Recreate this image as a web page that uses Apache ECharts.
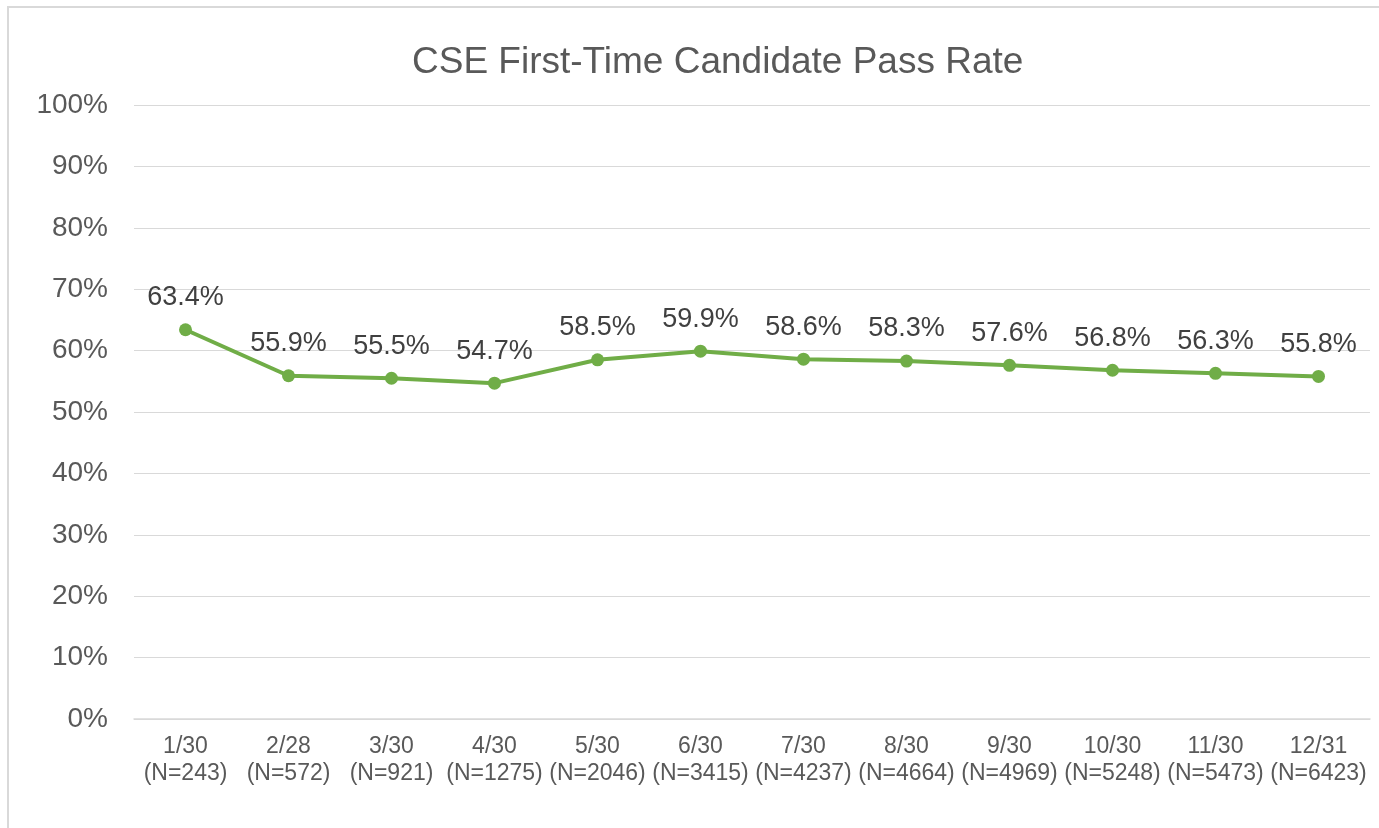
<!DOCTYPE html>
<html lang="en">
<head>
    <meta charset="UTF-8">
    <title>CSE First-Time Candidate Pass Rate</title>
    <style>
        html, body { margin: 0; padding: 0; background: #fff; }
        #frame { position: absolute; left: 7px; top: 6px; width: 1380px; height: 830px;
                 border-left: 2px solid #d9d9d9; border-top: 2px solid #d9d9d9; }
        #chart { position: absolute; left: 0; top: 0; width: 1379px; height: 828px; }
    </style>
</head>
<body>
    <div id="frame"></div>
    <div id="chart"></div>
</body>
<script src="https://cdn.jsdelivr.net/npm/echarts@6/dist/echarts.min.js"></script>
<script type="text/javascript">
    // 数据
    var dates = ['1/30', '2/28', '3/30', '4/30', '5/30', '6/30', '7/30', '8/30', '9/30', '10/30', '11/30', '12/31'];
    var counts = [243, 572, 921, 1275, 2046, 3415, 4237, 4664, 4969, 5248, 5473, 6423];
    var passRate = [63.4, 55.9, 55.5, 54.7, 58.5, 59.9, 58.6, 58.3, 57.6, 56.8, 56.3, 55.8];
    var yTicks = [0, 10, 20, 30, 40, 50, 60, 70, 80, 90, 100];

    var categories = dates.map(function (d, i) {
        return d + '\n(N=' + counts[i] + ')';
    });

    var font = 'Arial, "Liberation Sans", sans-serif';

    var option = {
        animation: false,
        title: {
            text: 'CSE First-Time Candidate Pass Rate',
            left: 407,
            top: 39,
            textStyle: { fontFamily: font, fontSize: 37, fontWeight: 'normal', color: '#595959' }
        },
        grid: { left: 134, right: 9, top: 105, bottom: 109, containLabel: false },
        xAxis: {
            type: 'category',
            data: categories,
            boundaryGap: true,
            axisLine: { lineStyle: { color: '#d9d9d9', width: 1.5 } },
            axisTick: { show: false },
            axisLabel: {
                interval: 0,
                margin: 14,
                fontFamily: font,
                fontSize: 23,
                lineHeight: 27,
                color: '#595959'
            }
        },
        yAxis: {
            type: 'value',
            min: yTicks[0],
            max: yTicks[yTicks.length - 1],
            interval: 10,
            axisLine: { show: false },
            axisTick: { show: false },
            splitLine: { lineStyle: { color: '#d9d9d9', width: 1 } },
            axisLabel: {
                margin: 26,
                fontFamily: font,
                fontSize: 28,
                color: '#595959',
                formatter: '{value}%'
            }
        },
        series: [{
            type: 'line',
            data: passRate,
            symbol: 'circle',
            symbolSize: 13,
            lineStyle: { color: '#70ad47', width: 4 },
            itemStyle: { color: '#70ad47' },
            label: {
                show: true,
                position: 'top',
                distance: 12,
                fontFamily: font,
                fontSize: 27,
                color: '#404040',
                formatter: function (p) { return p.value.toFixed(1) + '%'; }
            }
        }]
    };

    var chart = echarts.init(document.getElementById('chart'));
    chart.setOption(option);
</script>
</html>
